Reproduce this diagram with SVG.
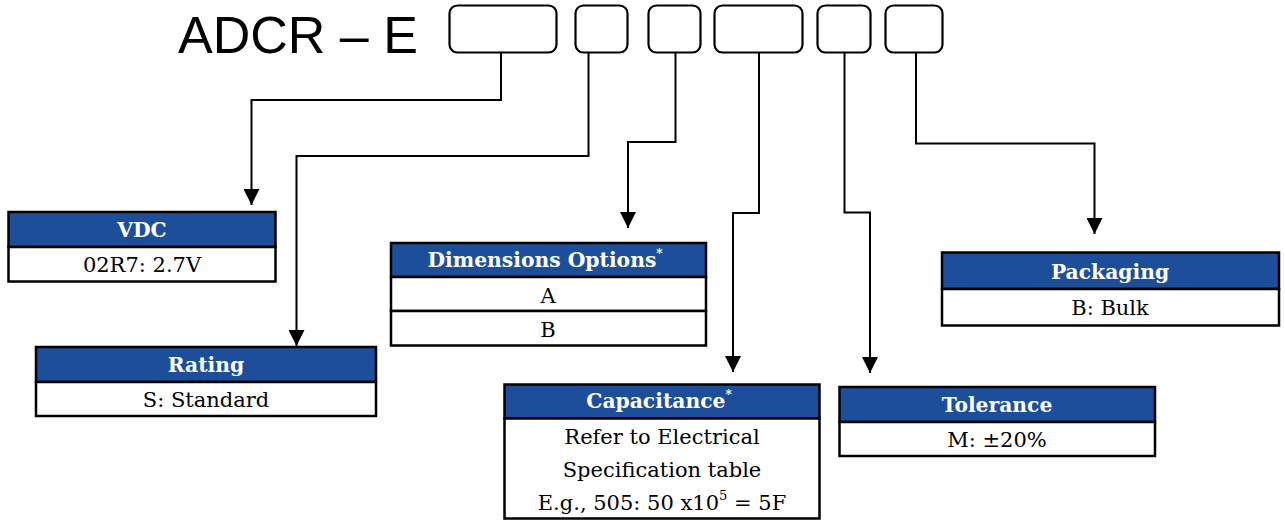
<svg xmlns="http://www.w3.org/2000/svg" width="1285" height="521" viewBox="0 0 1285 521">
<style>
.slot{fill:#fff;stroke:#000;stroke-width:2.2}
.conn{fill:none;stroke:#000;stroke-width:2}
.hdr{fill:#1C4E9A;stroke:#000;stroke-width:2.5}
.body{fill:#fff;stroke:#000;stroke-width:2.5}
.ht{font-weight:bold;font-size:20.3px;fill:#fff;text-anchor:middle}
.bt{font-size:21px;fill:#000;text-anchor:middle}
.sup{font-size:12px}
</style>
<defs>
<marker id="arr" markerUnits="userSpaceOnUse" markerWidth="16" markerHeight="16" viewBox="0 0 15 15" refX="15" refY="7.5" orient="auto">
<path d="M0,0 L15,7.5 L0,15 z" fill="#000"/>
</marker>
</defs>
<g id="title">
<text x="178" y="53" font-family="Liberation Sans, Arial, sans-serif" font-size="52" fill="#000">ADCR – E</text>
</g>
<g id="slots">
<rect id="slot1" class="slot" x="449.5" y="5.5" width="107" height="47" rx="8"/>
<rect id="slot2" class="slot" x="575.5" y="5.5" width="52" height="47" rx="8"/>
<rect id="slot3" class="slot" x="648.5" y="5.5" width="52" height="47" rx="8"/>
<rect id="slot4" class="slot" x="714.5" y="5.5" width="88" height="47" rx="8"/>
<rect id="slot5" class="slot" x="817.5" y="5.5" width="53" height="47" rx="8"/>
<rect id="slot6" class="slot" x="885.5" y="5.5" width="57" height="47" rx="8"/>
</g>
<g id="connectors">
<path class="conn" d="M501,53 V100 H251.5 V205" marker-end="url(#arr)"/>
<path class="conn" d="M588.5,53 V156 H296.5 V346" marker-end="url(#arr)"/>
<path class="conn" d="M675.5,53 V142 H628 V228" marker-end="url(#arr)"/>
<path class="conn" d="M759,53 V213 H733 V372" marker-end="url(#arr)"/>
<path class="conn" d="M844.5,53 V212.5 H870 V373" marker-end="url(#arr)"/>
<path class="conn" d="M916,53 V143.5 H1094.5 V234" marker-end="url(#arr)"/>
</g>
<g font-family="DejaVu Serif, serif">
<g id="vdc">
<rect class="hdr" x="8.5" y="212" width="267" height="35"/>
<rect class="body" x="8.5" y="247" width="267" height="34.5"/>
<text class="ht" x="142" y="237">VDC</text>
<text class="bt" x="142" y="272">02R7: 2.7V</text>
</g>
<g id="rating">
<rect class="hdr" x="36" y="347" width="340" height="35"/>
<rect class="body" x="36" y="382" width="340" height="34"/>
<text class="ht" x="206" y="372">Rating</text>
<text class="bt" x="206" y="407">S: Standard</text>
</g>
<g id="dimensions">
<rect class="hdr" x="391" y="243" width="315" height="34"/>
<rect class="body" x="391" y="277" width="315" height="34"/>
<rect class="body" x="391" y="311" width="315" height="34.5"/>
<text class="ht" x="545" y="267">Dimensions Options<tspan class="sup" dy="-9">*</tspan></text>
<text class="bt" x="548" y="303">A</text>
<text class="bt" x="548" y="337">B</text>
</g>
<g id="capacitance">
<rect class="hdr" x="504.5" y="384.5" width="315" height="34"/>
<rect class="body" x="504.5" y="418.5" width="315" height="100"/>
<text class="ht" x="659" y="408">Capacitance<tspan class="sup" dy="-9">*</tspan></text>
<text class="bt" x="662" y="444">Refer to Electrical</text>
<text class="bt" x="662" y="477">Specification table</text>
<text class="bt" x="662" y="510">E.g., 505: 50 x10<tspan font-size="13" dy="-10">5</tspan><tspan dy="10"> = 5F</tspan></text>
</g>
<g id="packaging">
<rect class="hdr" x="942" y="252.5" width="337" height="36.5"/>
<rect class="body" x="942" y="289" width="337" height="36.5"/>
<text class="ht" x="1110" y="279">Packaging</text>
<text class="bt" x="1110" y="315">B: Bulk</text>
</g>
<g id="tolerance">
<rect class="hdr" x="839.5" y="387" width="315.5" height="35"/>
<rect class="body" x="839.5" y="422" width="315.5" height="34"/>
<text class="ht" x="997" y="412">Tolerance</text>
<text class="bt" x="997" y="447">M: ±20%</text>
</g>
</g>
</svg>
